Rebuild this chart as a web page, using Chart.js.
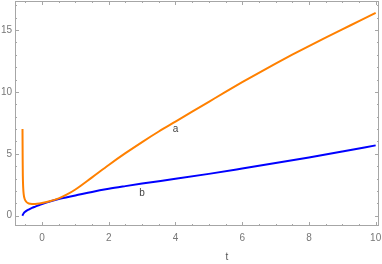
<!DOCTYPE html>
<html>
<head>
<meta charset="utf-8">
<script src="https://cdn.jsdelivr.net/npm/chart.js@4/dist/chart.umd.min.js"></script>
<style>
  html, body { margin: 0; padding: 0; background: #fff; }
  #plot { display: block; }
</style>
</head>
<body>
<canvas id="plot" width="382" height="264"></canvas>
<script>
// curve a (orange)
const tA = [-0.585, -0.58, -0.575, -0.565, -0.55, -0.52, -0.48, -0.42, -0.35, -0.25, -0.15, 0, 0.2, 0.5, 0.75, 1, 1.5, 2, 2.5, 3, 3.5, 4, 4.5, 5, 5.5, 6, 6.5, 7, 7.5, 8, 8.5, 9, 9.5, 10];
const aVals = [7.0, 4.5, 3.2, 2.3, 1.75, 1.35, 1.15, 1.02, 0.97, 0.95, 0.97, 1.03, 1.15, 1.4, 1.72, 2.12, 3.1, 4.1, 5.05, 5.95, 6.8, 7.6, 8.4, 9.2, 10.0, 10.78, 11.54, 12.28, 13.0, 13.7, 14.38, 15.05, 15.71, 16.38];
// curve b (blue)
const tB = [-0.59, -0.55, -0.5, -0.4, -0.3, -0.2, -0.1, 0, 0.2, 0.5, 1, 1.5, 2, 2.5, 3, 4, 5, 6, 7, 8, 9, 10];
const bVals = [0, 0.2, 0.33, 0.5, 0.63, 0.74, 0.85, 0.95, 1.12, 1.35, 1.63, 1.92, 2.17, 2.39, 2.6, 2.98, 3.38, 3.81, 4.25, 4.71, 5.19, 5.68];

const xTicks = [0, 2, 4, 6, 8, 10];
const xMinor = [-0.5, 0.5, 1, 1.5, 2.5, 3, 3.5, 4.5, 5, 5.5, 6.5, 7, 7.5, 8.5, 9, 9.5];
const yTicks = [0, 5, 10, 15];
const yMinor = [1, 2, 3, 4, 6, 7, 8, 9, 11, 12, 13, 14, 16, 17];

const curveLabels = [
  { text: 'a', t: 4.0, v: 6.97 },
  { text: 'b', t: 3.0, v: 1.82 }
];

const toPts = (xs, ys) => xs.map((x, i) => ({ x: x, y: ys[i] }));

const FRAME = '#a6a6a6';

// frame with inward ticks, like the original
const framePlugin = {
  id: 'frame',
  afterDatasetsDraw(chart) {
    const ctx = chart.ctx;
    const a = chart.chartArea;
    const sx = chart.scales.x, sy = chart.scales.y;
    ctx.save();
    ctx.strokeStyle = FRAME;
    ctx.lineWidth = 1;
    ctx.strokeRect(a.left + 0.5, a.top + 0.5, a.right - a.left - 1, a.bottom - a.top - 1);
    ctx.beginPath();
    const tickX = (v, len) => {
      const p = Math.round(sx.getPixelForValue(v)) + 0.5;
      ctx.moveTo(p, a.bottom); ctx.lineTo(p, a.bottom - len);
      ctx.moveTo(p, a.top); ctx.lineTo(p, a.top + len);
    };
    const tickY = (v, len) => {
      const p = Math.round(sy.getPixelForValue(v)) + 0.5;
      ctx.moveTo(a.left, p); ctx.lineTo(a.left + len, p);
      ctx.moveTo(a.right, p); ctx.lineTo(a.right - len, p);
    };
    xTicks.forEach(v => tickX(v, 4));
    xMinor.forEach(v => tickX(v, 2));
    yTicks.forEach(v => tickY(v, 4));
    yMinor.forEach(v => tickY(v, 2));
    ctx.stroke();

    ctx.fillStyle = '#444';
    ctx.font = '10px "Liberation Sans", Arial, sans-serif';
    ctx.textAlign = 'center';
    ctx.textBaseline = 'middle';
    curveLabels.forEach(l => {
      ctx.fillText(l.text, sx.getPixelForValue(l.t), sy.getPixelForValue(l.v));
    });
    ctx.fillStyle = '#555';
    ctx.fillText('t', 227, 257);
    ctx.restore();
  }
};

new Chart(document.getElementById('plot'), {
  type: 'scatter',
  data: {
    datasets: [
      {
        label: 'a',
        data: toPts(tA, aVals),
        showLine: true,
        borderColor: 'rgb(255,128,0)',
        borderWidth: 2,
        pointRadius: 0,
        cubicInterpolationMode: 'monotone'
      },
      {
        label: 'b',
        data: toPts(tB, bVals),
        showLine: true,
        borderColor: 'rgb(0,0,255)',
        borderWidth: 2,
        pointRadius: 0,
        cubicInterpolationMode: 'monotone'
      }
    ]
  },
  options: {
    responsive: false,
    animation: false,
    layout: { padding: { left: 0, right: 3, top: 1, bottom: 0 } },
    plugins: { legend: { display: false }, tooltip: { enabled: false } },
    scales: {
      x: {
        type: 'linear',
        min: -0.81,
        max: 10.1,
        afterBuildTicks: s => { s.ticks = xTicks.map(v => ({ value: v })); },
        afterFit: s => { s.height = 38; s.paddingLeft = 0; s.paddingRight = 0; },
        grid: { display: false, drawTicks: false },
        border: { display: false },
        ticks: {
          padding: 6,
          color: '#777',
          font: { family: '"Liberation Sans", Arial, sans-serif', size: 10 }
        }
      },
      y: {
        type: 'linear',
        min: -0.83,
        max: 17.34,
        afterBuildTicks: s => { s.ticks = yTicks.map(v => ({ value: v })); },
        afterFit: s => { s.width = 15; s.paddingTop = 0; s.paddingBottom = 0; },
        grid: { display: false, drawTicks: false },
        border: { display: false },
        ticks: {
          padding: 3,
          color: '#777',
          font: { family: '"Liberation Sans", Arial, sans-serif', size: 10 }
        }
      }
    }
  },
  plugins: [framePlugin]
});
</script>
</body>
</html>
